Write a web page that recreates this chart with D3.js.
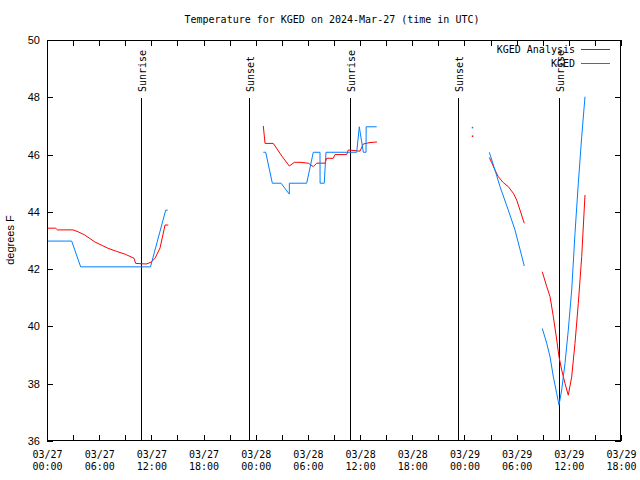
<!DOCTYPE html>
<html><head><meta charset="utf-8">
<script src="https://cdn.jsdelivr.net/npm/d3@7"></script>
<style>
body{margin:0;background:#fff;}
svg{display:block;}
.mono{font-family:"DejaVu Sans Mono",monospace;font-size:10px;}
.sans{font-family:"Liberation Sans",Arial,sans-serif;font-size:11px;}
</style></head>
<body><svg id="c" width="640" height="480"></svg>
<script>
// hours after 2024-03-27 00:00 UTC ; null = gap
const analysisHours = [0,1.0,1.2,3.0,3.6,4.3,5.5,7,8,9,10,10.2,11.4,11.95,12.42,13.0,13.57,13.95,null,
  24.87,25.07,26.02,27.0,27.86,28.44,29.09,30.04,30.62,31.01,31.97,32.16,32.92,33.11,34.46,34.64,35.99,36.37,37.14,37.94,null,
  48.9,null,
  50.86,51.13,51.51,51.89,52.47,53.04,53.62,54.01,54.39,54.88,null,
  56.95,57.46,57.84,58.22,58.61,58.87,59.18,59.56,59.94,60.33,60.71,61.09,61.48,61.86];
const analysisTemps = [43.43,43.43,43.37,43.37,43.30,43.20,42.95,42.73,42.62,42.52,42.38,42.20,42.18,42.24,42.38,42.74,43.54,43.54,null,
  47.0,46.39,46.39,45.95,45.60,45.73,45.73,45.70,45.58,45.70,45.70,45.87,45.87,46.0,46.0,46.16,46.12,46.37,46.42,46.44,null,
  46.65,null,
  45.90,45.72,45.46,45.23,45.02,44.88,44.65,44.41,44.06,43.60,null,
  41.91,41.39,41.04,40.34,39.53,38.94,38.48,38.01,37.60,38.24,39.41,40.80,42.43,44.59];

const obsHours = [0,2.84,3.87,11.9,13.65,13.88,null,
  24.87,25.15,25.91,26.91,27.86,27.87,29.86,30.62,31.39,31.40,31.88,32.08,35.61,35.91,36.37,36.68,36.70,37.91,null,
  48.9,null,
  50.86,51.51,52.09,53.04,53.81,54.88,null,
  56.95,57.46,57.84,58.22,58.61,58.87,59.18,59.56,59.94,60.33,60.71,61.09,61.48,61.86];
const obsTemps = [42.98,42.98,42.08,42.08,44.06,44.06,null,
  46.08,46.08,45.0,45.0,44.62,45.0,45.0,46.08,46.08,45.0,45.0,46.08,46.08,46.97,46.08,46.08,46.97,46.97,null,
  46.95,null,
  46.08,45.46,44.88,44.06,43.37,42.11,null,
  39.93,39.41,38.94,38.24,37.66,37.25,37.78,38.71,39.87,41.27,43.25,45.0,46.62,48.02];

const sunEventHours = [10.81,23.23,34.84,47.26,58.87];
const sunEventLabels = ["Sunrise","Sunset","Sunrise","Sunset","Sunrise"];
const yTicks = [36,38,40,42,44,46,48,50];
const seriesNames = ["KGED Analysis","KGED"];
const seriesColors = ["#ff0000","#0080ff"];

const t0 = Date.UTC(2024,2,27,0,0);
const toDate = h => new Date(t0 + h*3600e3);
const L=47,R=621,T=40,B=441;
const svg = d3.select("#c");
const x = d3.scaleUtc().domain([toDate(0),toDate(66)]).range([L,R]);
const y = d3.scaleLinear().domain([36,50]).range([B,T]);

svg.append("text").attr("class","mono").attr("x",332).attr("y",23).attr("text-anchor","middle")
  .text("Temperature for KGED on 2024-Mar-27 (time in UTC)");

const pad = n => String(n).padStart(2,"0");
const gB = svg.append("g").attr("transform",`translate(0,${B})`)
  .call(d3.axisBottom(x).ticks(d3.utcHour.every(3)).tickSizeInner(-6).tickSizeOuter(0).tickPadding(17)
  .tickFormat(d => d.getUTCHours()%6===0 ? "x" : ""));
gB.select(".domain").remove();
gB.selectAll(".tick text").attr("class","mono").attr("fill","#000").each(function(d){
  const t=d3.select(this); if(t.text()==="") return;
  t.text(null);
  t.append("tspan").attr("x",0).attr("dy","0").text(pad(d.getUTCMonth()+1)+"/"+pad(d.getUTCDate()));
  t.append("tspan").attr("x",0).attr("dy","12").text(pad(d.getUTCHours())+":"+pad(d.getUTCMinutes()));
});
const gT = svg.append("g").attr("transform",`translate(0,${T})`)
  .call(d3.axisTop(x).ticks(d3.utcHour.every(3)).tickSizeInner(-6).tickSizeOuter(0).tickFormat(""));
gT.select(".domain").remove();
const gL = svg.append("g").attr("transform",`translate(${L},0)`)
  .call(d3.axisLeft(y).tickValues(yTicks).tickSizeInner(-6).tickSizeOuter(0).tickPadding(7));
gL.select(".domain").remove();
gL.selectAll(".tick text").attr("class","sans").attr("fill","#000");
const gR = svg.append("g").attr("transform",`translate(${R},0)`)
  .call(d3.axisRight(y).tickValues(yTicks).tickSizeInner(-6).tickSizeOuter(0).tickFormat(""));
gR.select(".domain").remove();
svg.selectAll(".tick line").attr("stroke","#000").attr("shape-rendering","crispEdges");

svg.append("text").attr("class","sans").attr("transform","translate(14,240) rotate(-90)")
  .attr("text-anchor","middle").text("degrees F");

// sun events
sunEventHours.forEach((h,i)=>{
  const xx = Math.round(x(toDate(h)))+0.5;
  svg.append("line").attr("x1",xx).attr("x2",xx).attr("y1",98).attr("y2",B)
    .attr("stroke","#000").attr("stroke-width",1);
  svg.append("text").attr("class","mono").attr("transform",`translate(${xx+4},92) rotate(-90)`)
    .attr("text-anchor","start").text(sunEventLabels[i]);
});

// series
function drawSeries(hours,temps,color){
  const pts = hours.map((h,i)=>[h,temps[i]]);
  const line = d3.line().defined(d=>d[0]!==null&&d[1]!==null)
    .x(d=>x(toDate(d[0]))).y(d=>y(d[1]));
  svg.append("path").attr("d",line(pts)).attr("fill","none").style("stroke",color).attr("stroke-width",1);
  pts.forEach((d,i)=>{
    if(d[0]===null) return;
    const prev = i>0?pts[i-1][0]:null, next = i<pts.length-1?pts[i+1][0]:null;
    if(prev===null && next===null){
      svg.append("rect").attr("x",x(toDate(d[0]))-0.5).attr("y",y(d[1])-0.5).attr("width",1.5).attr("height",1.5).style("fill",color);
    }
  });
}
drawSeries(analysisHours,analysisTemps,seriesColors[0]);
drawSeries(obsHours,obsTemps,seriesColors[1]);

// frame
svg.append("rect").attr("x",L+0.5).attr("y",T+0.5).attr("width",R-L-1).attr("height",B-T-1)
  .attr("fill","none").attr("stroke","#000").attr("shape-rendering","crispEdges");

// legend
seriesNames.forEach((n,i)=>{
  const ly = 49 + i*14;
  svg.append("text").attr("class","mono").attr("x",575).attr("y",ly+4).attr("text-anchor","end").text(n);
  svg.append("rect").attr("x",581).attr("y",ly).attr("width",29).attr("height",1)
    .style("fill",seriesColors[i]);
});
</script></body></html>
